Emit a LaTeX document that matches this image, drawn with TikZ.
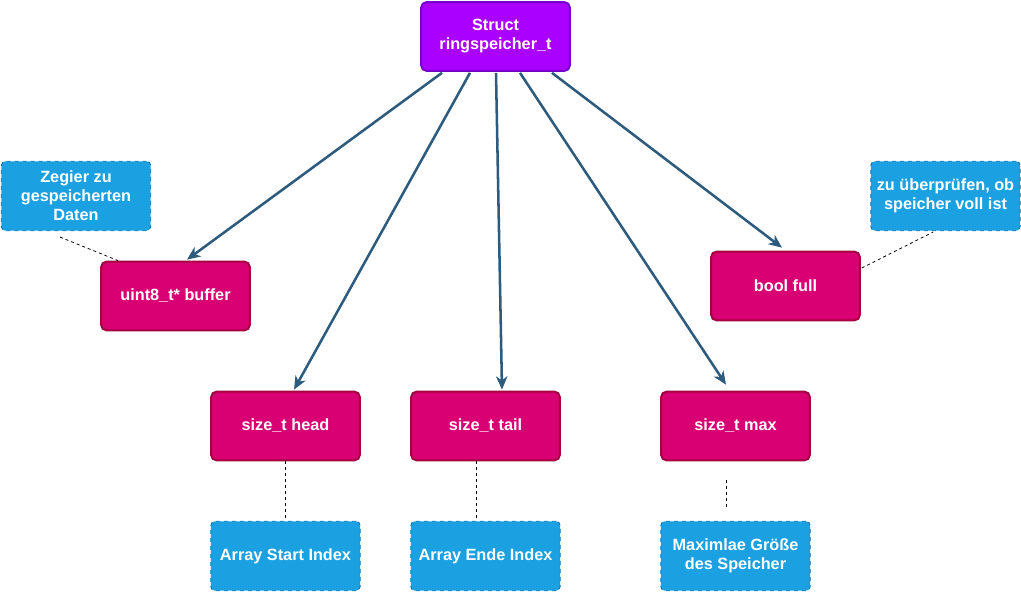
\documentclass[tikz,border=0pt]{standalone}
\usepackage{fontspec}
\setmainfont{Liberation Sans}
\usetikzlibrary{arrows.meta,calc}
\definecolor{structFill}{HTML}{AA00FF}
\definecolor{structLine}{HTML}{7700CC}
\definecolor{fieldFill}{HTML}{D80073}
\definecolor{fieldLine}{HTML}{A50040}
\definecolor{noteFill}{HTML}{1BA1E2}
\definecolor{noteLine}{HTML}{006EAF}
\definecolor{linkCol}{HTML}{2D5B7E}
\tikzstyle{structbox} = [rectangle,rounded corners=4pt,draw=structLine,fill=structFill,line width=1.5pt,minimum width=111.5pt,minimum height=51.5pt,text=white,align=center,font=\bfseries\fontsize{12.2}{14.3}\selectfont]
\tikzstyle{field} = [rectangle,rounded corners=4pt,draw=fieldLine,fill=fieldFill,line width=1.5pt,minimum width=111.5pt,minimum height=51.5pt,text=white,align=center,font=\bfseries\fontsize{12.2}{14.3}\selectfont]
\tikzstyle{note} = [rectangle,rounded corners=3pt,draw=noteLine,fill=noteFill,dashed,line width=0.6pt,minimum width=112pt,minimum height=52pt,text=white,align=center,font=\bfseries\fontsize{12.2}{14.3}\selectfont]

\begin{document}
\begin{tikzpicture}[x=0.75pt,y=-0.75pt]
	\tikzstyle{link} = [draw=linkCol,line width=1.9pt,-{Stealth[length=10pt,width=8.5pt,inset=3pt]}]
	\tikzstyle{hint} = [draw=black,line width=0.6pt,dash pattern=on 2.25pt off 2.25pt]
	\useasboundingbox (0,0) rectangle (1021,592);
	
	\node[structbox] (rs) at (495.5,36.5) {Struct\\ringspeicher\_t};
	
	\node[field] (buf)  at (175.5,296) {uint8\_t* buffer};
	\node[field] (full) at (785.5,286) {bool full};
	\node[field] (head) at (285.5,426) {size\_t head};
	\node[field] (tail) at (485.5,426) {size\_t tail};
	\node[field] (max)  at (735.5,426) {size\_t max};
	
	\node[note] (nbuf)  at (76,196)    {Zegier zu\\gespeicherten\\Daten};
	\node[note] (nfull) at (945.5,196) {zu überprüfen, ob\\speicher voll ist};
	\node[note] (nhead) at (285.5,556) {Array Start Index};
	\node[note] (ntail) at (485.5,556) {Array Ende Index};
	\node[note] (nmax)  at (735.5,556) {Maximlae Größe\\des Speicher};
	
	
	\draw[link] ($(rs.south)+(-53.5,1)$) -- ($(buf.north)+(11.5,-1)$);
	\draw[link] ($(rs.south)+(-25.5,1)$) -- ($(head.north)+(8.5,-1)$);
	\draw[link] ($(rs.south)+(0.5,1)$)   -- ($(tail.north)+(16.5,-1)$);
	\draw[link] ($(rs.south)+(24.5,1)$)  -- ($(max.north)+(-9.5,-6)$);
	\draw[link] ($(rs.south)+(56.5,1)$)  -- ($(full.north)+(-3.5,-3)$);
	
	
	\draw[hint] ($(nbuf.south)+(-16,6)$) -- ($(buf.north west)+(18,0)$);
	\draw[hint] ($(full.east)+(1,-18)$) -- ($(nfull.south)+(-12.5,1)$);
	\draw[hint] (head) -- (nhead);
	\draw[hint] ($(tail.south)+(-9.5,0)$) -- ($(ntail.north)+(-9.5,0)$);
	\draw[hint] ($(max.south)+(-9.5,19)$) -- ($(nmax.north)+(-9.5,-11)$);
\end{tikzpicture}
\end{document}
